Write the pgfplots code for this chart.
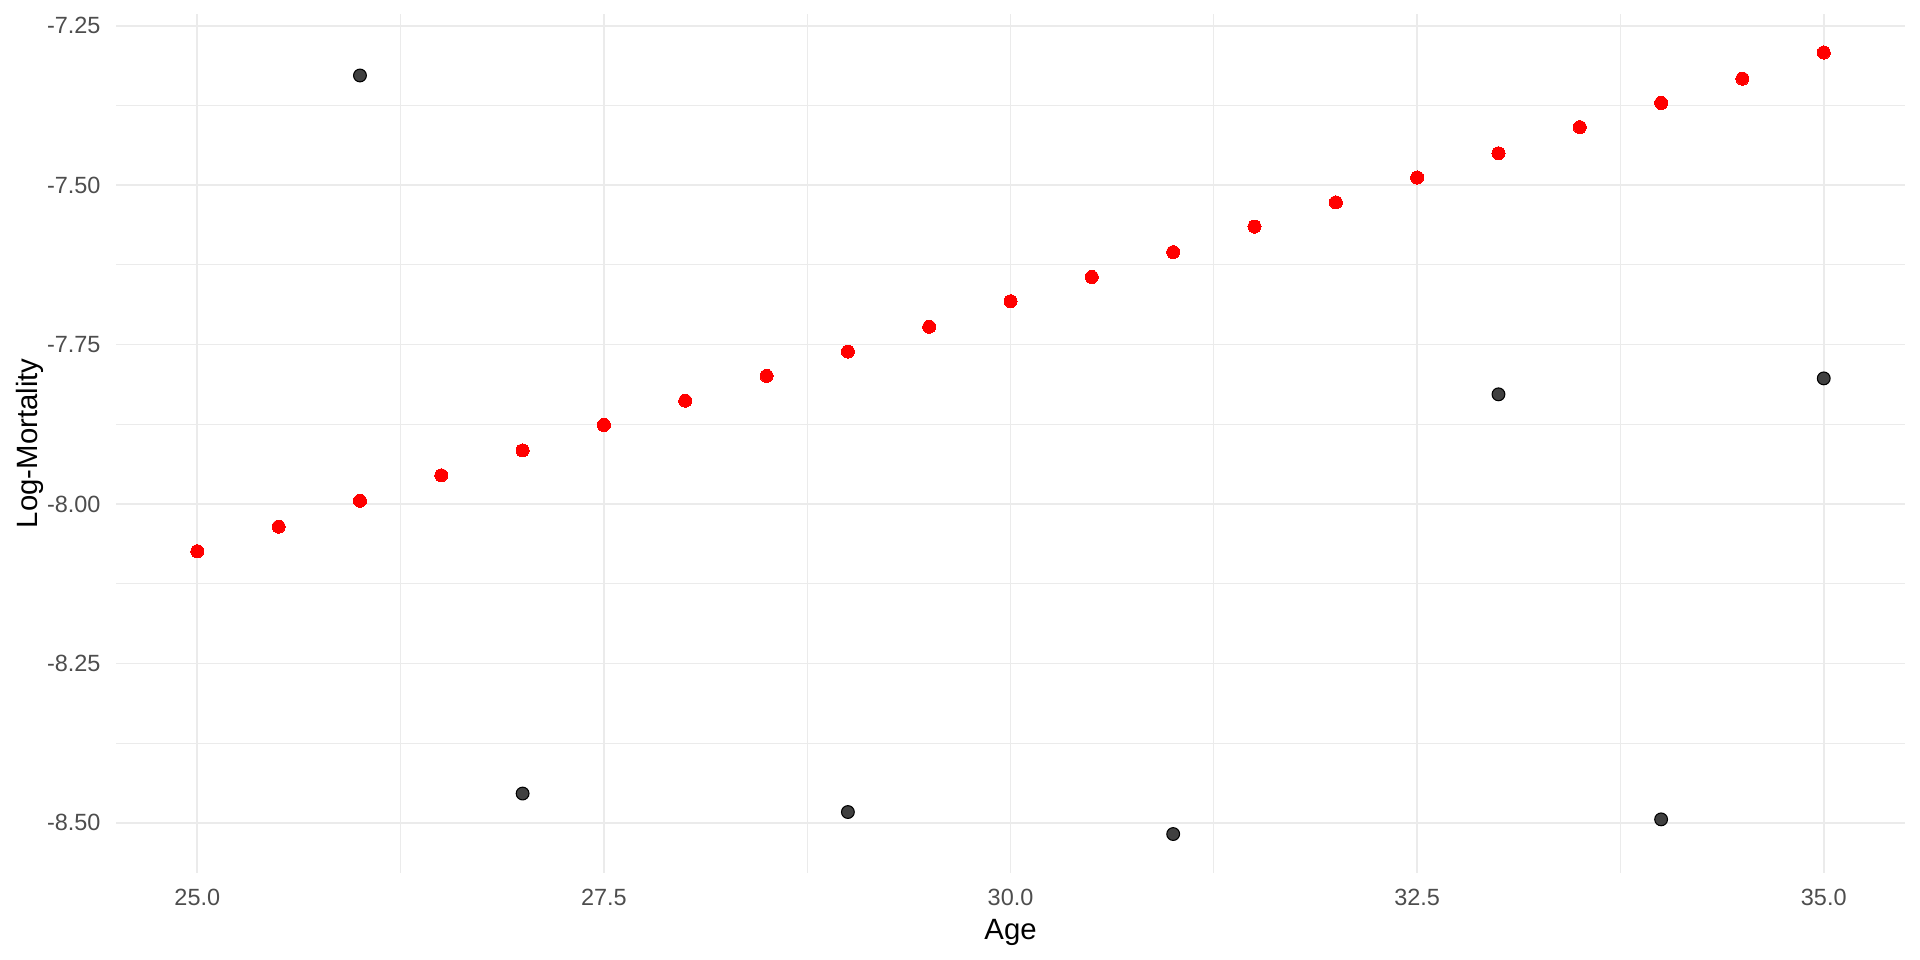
\documentclass[border=0pt]{standalone}
\usepackage{fontspec}
\setmainfont{Liberation Sans}
\usepackage{pgfplots}
\pgfplotsset{compat=1.18}
\definecolor{gridc}{HTML}{EBEBEB}
\definecolor{tickc}{HTML}{4D4D4D}
\definecolor{ptgray}{HTML}{404040}
\begin{document}
\begin{tikzpicture}
\useasboundingbox (-43.5pt,-32.7pt) rectangle (676.5pt,327.25pt);
\begin{axis}[
  scale only axis,
  width=670.9pt, height=322pt,
  xmin=24.5, xmax=35.5,
  ymin=-8.5781, ymax=-7.2316,
  axis line style={draw=none},
  major tick length=0pt, minor tick length=0pt,
  xtick={25,27.5,30,32.5,35},
  xticklabels={25.0,27.5,30.0,32.5,35.0},
  minor xtick={26.25,28.75,31.25,33.75},
  ytick={-8.5,-8.25,-8,-7.75,-7.5,-7.25},
  yticklabels={-8.50,-8.25,-8.00,-7.75,-7.50,-7.25},
  minor ytick={-8.375,-8.125,-7.875,-7.625,-7.375},
  grid=both,
  major grid style={draw=gridc, line width=0.68pt},
  minor grid style={draw=gridc, line width=0.37pt},
  /pgf/number format/assume math mode=true,
  xticklabel style={font=\fontsize{8.8}{10}\selectfont, text=tickc, anchor=base, inner sep=0pt, yshift=-12.3pt},
  yticklabel style={font=\fontsize{8.8}{10}\selectfont, text=tickc, anchor=east, inner sep=0pt, xshift=-5.6pt},
  xlabel={Age},
  ylabel={Log-Mortality},
  every axis x label/.style={at={(axis description cs:0.5,-0.07826)}, anchor=base, font=\fontsize{11}{13}\selectfont, inner sep=0pt},
  every axis y label/.style={at={(axis description cs:-0.04412,0.5)}, rotate=90, anchor=base, font=\fontsize{11}{13}\selectfont, inner sep=0pt},
  clip=false,
]
\addplot[only marks, mark=*, mark size=2.45pt, mark options={fill=red, draw=red, line width=0pt}] coordinates {
(25,-8.074) (25.5,-8.0355) (26,-7.995) (26.5,-7.955) (27,-7.916) (27.5,-7.876)
(28,-7.838) (28.5,-7.799) (29,-7.761) (29.5,-7.722) (30,-7.682) (30.5,-7.644)
(31,-7.605) (31.5,-7.565) (32,-7.527) (32.5,-7.488) (33,-7.450) (33.5,-7.409)
(34,-7.371) (34.5,-7.333) (35,-7.292)
};
\addplot[only marks, mark=*, mark size=2.4pt, mark options={fill=ptgray, draw=black, line width=0.4pt}] coordinates {
(26,-7.328) (27,-8.454) (29,-8.483) (31,-8.5175) (33,-7.828) (34,-8.4945) (35,-7.803)
};
\end{axis}
\end{tikzpicture}
\end{document}
